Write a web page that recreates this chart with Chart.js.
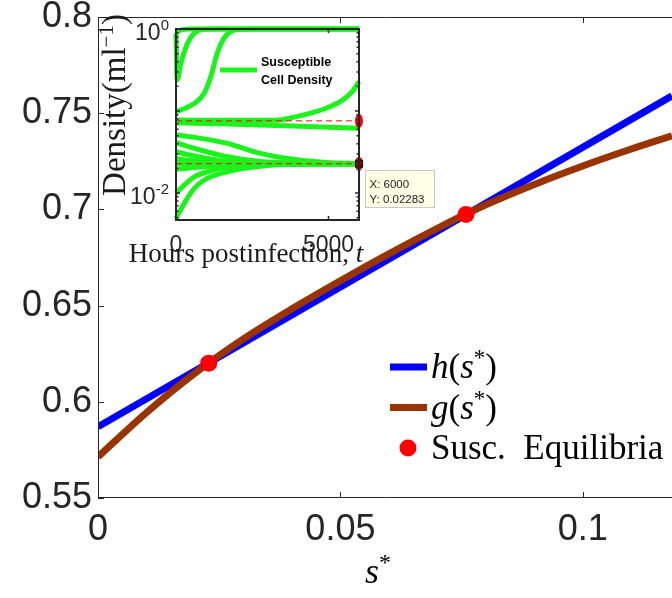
<!DOCTYPE html>
<html>
<head>
<meta charset="utf-8">
<script src="https://cdn.jsdelivr.net/npm/chart.js@4.4.1/dist/chart.umd.min.js"></script>
<style>
  html, body { margin: 0; padding: 0; background: #fff; }
  #wrap { position: relative; width: 672px; height: 598px; }
  #wrap canvas { position: absolute; left: 0; top: 0; }
</style>
</head>
<body>
<div id="wrap">
  <canvas id="mainChart" width="672" height="598"></canvas>
  <canvas id="insetChart" width="672" height="598"></canvas>
</div>
<script>
// ---- main plot: h(s*) and g(s*) ----
const sGrid = [0, 0.01, 0.02, 0.03, 0.04, 0.05, 0.06, 0.07, 0.08, 0.09, 0.10, 0.11, 0.1184];
const gValues = [0.5714, 0.5944, 0.6149, 0.6327, 0.6483, 0.6629, 0.6769, 0.6902, 0.7024, 0.7130, 0.7226, 0.7314, 0.7383];
const hGrid = [0, 0.1184];
const hValues = [0.587, 0.759];
const eqS = [0.02283, 0.0759];
const eqValues = [0.6201, 0.6973];
const xTicks = [0, 0.05, 0.1];
const xTickLabels = ['0', '0.05', '0.1'];
const yTicks = [0.55, 0.6, 0.65, 0.7, 0.75, 0.8];
const yTickLabels = ['0.55', '0.6', '0.65', '0.7', '0.75', '0.8'];

// ---- inset: susceptible cell density vs time ----
const tA1 = [0, 100, 250, 450, 6000];
const vA1 = [0.9, 0.95, 0.99, 1.0, 1.0];
const tA2 = [0, 40, 160, 380, 600, 900, 1300, 6000];
const vA2 = [0.88, 0.24, 0.38, 0.67, 0.89, 0.99, 1.0, 1.0];
const tB = [0, 300, 600, 920, 1140, 1350, 1570, 1790, 2110, 2600, 6000];
const vB = [0.098, 0.108, 0.124, 0.164, 0.262, 0.505, 0.77, 0.93, 0.99, 1.0, 1.0];
const tC = [0, 1500, 3300, 3840, 4380, 4920, 5460, 5780, 6000];
const vC = [0.0777, 0.0772, 0.0775, 0.0837, 0.0937, 0.108, 0.136, 0.172, 0.228];
const tD = [0, 1680, 3840, 6000];
const vD = [0.072, 0.0695, 0.0656, 0.0615];
const tE1 = [0, 600, 1680, 2760, 3840, 4920, 6000];
const vE1 = [0.051, 0.0478, 0.0404, 0.0305, 0.0258, 0.0236, 0.0229];
const tE2 = [0, 600, 1680, 2760, 3840, 6000];
const vE2 = [0.0411, 0.0351, 0.0277, 0.0242, 0.0232, 0.0228];
const tE3 = [0, 600, 1680, 2760, 6000];
const vE3 = [0.0319, 0.0283, 0.0242, 0.0232, 0.0228];
const tE4 = [0, 500, 1140, 2500, 6000];
const vE4 = [0.0265, 0.0248, 0.0234, 0.0229, 0.0228];
const tE5 = [0, 6000];
const vE5 = [0.0228, 0.0228];
const tE6 = [0, 600, 1680, 2760, 6000];
const vE6 = [0.0195, 0.0205, 0.0219, 0.0226, 0.0228];
const tF1 = [0, 270, 600, 1140, 1680, 2760, 6000];
const vF1 = [0.0099, 0.0125, 0.0158, 0.0187, 0.0208, 0.0222, 0.0228];
const tF2 = [0, 270, 600, 920, 1680, 2760, 3840, 6000];
const vF2 = [0.0049, 0.0075, 0.0114, 0.0144, 0.0182, 0.0212, 0.0224, 0.0228];
const insetXTicks = [0, 5000];
const insetXTickLabels = ['0', '5000'];
const insetYTicks = [0.01, 1];
const insetYTickExp = ['-2', '0'];
const tipT = 6000;
const tipValue = 0.02283;

const AXIS_COLOR = '#262626';
const SERIF = '"Liberation Serif", "Times New Roman", serif';
const SANS = '"Liberation Sans", Arial, sans-serif';

const toXY = (xs, ys) => xs.map((x, i) => ({x: x, y: ys[i]}));

// draw a run of text pieces (text, font, rise) one after the other
function drawParts(ctx, parts, x, y, align) {
  let total = 0;
  parts.forEach(p => { ctx.font = p[1]; total += ctx.measureText(p[0]).width; });
  let cx = x;
  if (align === 'center') cx = x - total / 2;
  if (align === 'right') cx = x - total;
  parts.forEach(p => {
    ctx.font = p[1];
    ctx.fillText(p[0], cx, y - (p[2] || 0));
    cx += ctx.measureText(p[0]).width;
  });
}

function ellipseMarker(w, h, color) {
  const c = document.createElement('canvas');
  c.width = w;
  c.height = h;
  const x = c.getContext('2d');
  x.fillStyle = color;
  x.beginPath();
  x.ellipse(w / 2, h / 2, w / 2, h / 2, 0, 0, Math.PI * 2);
  x.fill();
  return c;
}

// box, inward ticks, legend and x label of the main axes
const mainDecor = {
  id: 'mainDecor',
  afterDraw(chart) {
    const ctx = chart.ctx;
    const a = chart.chartArea;
    const xs = chart.scales.x;
    const ys = chart.scales.y;
    ctx.save();
    ctx.strokeStyle = AXIS_COLOR;
    ctx.lineWidth = 1;
    ctx.beginPath();
    ctx.moveTo(a.right, a.top + 0.5);
    ctx.lineTo(a.left + 0.5, a.top + 0.5);
    ctx.lineTo(a.left + 0.5, a.bottom - 0.5);
    ctx.lineTo(a.right, a.bottom - 0.5);
    xTicks.forEach(v => {
      const px = Math.round(xs.getPixelForValue(v)) + 0.5;
      ctx.moveTo(px, a.bottom);
      ctx.lineTo(px, a.bottom - 6);
      ctx.moveTo(px, a.top);
      ctx.lineTo(px, a.top + 6);
    });
    yTicks.forEach(v => {
      const py = Math.round(ys.getPixelForValue(v)) + 0.5;
      ctx.moveTo(a.left, py);
      ctx.lineTo(a.left + 6, py);
    });
    ctx.stroke();

    // x label s*
    ctx.fillStyle = '#000';
    ctx.textBaseline = 'alphabetic';
    drawParts(ctx, [['s', 'italic 36px ' + SERIF], ['*', '24px ' + SERIF, 13]], 378, 583, 'center');

    // legend
    const ds = chart.data.datasets;
    const math = name => [[name, 'italic 35px ' + SERIF], ['(', '35px ' + SERIF], ['s', 'italic 35px ' + SERIF],
      ['*', '23px ' + SERIF, 13], [')', '35px ' + SERIF]];
    const rows = [
      {kind: 'line', color: ds[0].borderColor, parts: math('h')},
      {kind: 'line', color: ds[1].borderColor, parts: math('g')},
      {kind: 'dot', color: ds[2].pointBackgroundColor, parts: [['Susc.  Equilibria', '35px ' + SERIF]]}
    ];
    rows.forEach((r, i) => {
      const y = 367 + i * 40.5;
      if (r.kind === 'line') {
        ctx.strokeStyle = r.color;
        ctx.lineWidth = 7;
        ctx.beginPath();
        ctx.moveTo(390, y);
        ctx.lineTo(427, y);
        ctx.stroke();
      } else {
        ctx.fillStyle = r.color;
        ctx.beginPath();
        ctx.arc(408, y, 8.5, 0, Math.PI * 2);
        ctx.fill();
      }
      ctx.fillStyle = '#000';
      drawParts(ctx, r.parts, 431, y + 11, 'left');
    });
    ctx.restore();
  }
};

new Chart(document.getElementById('mainChart'), {
  type: 'line',
  data: {
    datasets: [
      {label: 'h(s*)', data: toXY(hGrid, hValues), borderColor: '#0000ff', borderWidth: 7,
        pointRadius: 0, tension: 0, clip: 0, order: 3},
      {label: 'g(s*)', data: toXY(sGrid, gValues), borderColor: '#993300', borderWidth: 7,
        pointRadius: 0, cubicInterpolationMode: 'monotone', clip: 0, order: 2},
      {label: 'Susc. Equilibria', data: toXY(eqS, eqValues), showLine: false, pointRadius: 8.5,
        pointBackgroundColor: '#ff0000', pointBorderWidth: 0, order: 1}
    ]
  },
  options: {
    responsive: false,
    animation: false,
    events: [],
    layout: {autoPadding: false, padding: {top: 17, left: 0, right: 0, bottom: 0}},
    plugins: {legend: {display: false}, tooltip: {enabled: false}},
    scales: {
      x: {
        type: 'linear', min: 0, max: 0.1184,
        grid: {display: false, drawTicks: false},
        border: {display: false},
        afterBuildTicks: s => { s.ticks = xTicks.map(v => ({value: v})); },
        afterFit: s => { s.height = 100; s.paddingLeft = 0; s.paddingRight = 0; },
        ticks: {
          font: {family: SANS, size: 36}, color: AXIS_COLOR, padding: 10, maxRotation: 0, autoSkip: false,
          callback: v => xTickLabels[xTicks.indexOf(v)]
        }
      },
      y: {
        type: 'linear', min: 0.55, max: 0.8,
        grid: {display: false, drawTicks: false},
        border: {display: false},
        afterBuildTicks: s => { s.ticks = yTicks.map(v => ({value: v})); },
        afterFit: s => { s.width = 98; s.paddingTop = 0; s.paddingBottom = 0; },
        ticks: {
          font: {family: SANS, size: 36}, color: AXIS_COLOR, padding: 6, autoSkip: false,
          callback: v => yTickLabels[yTicks.findIndex(t => Math.abs(t - v) < 1e-9)]
        }
      }
    }
  },
  plugins: [mainDecor]
});

// white face, box, ticks, labels, legend and data tip of the inset axes
const insetDecor = {
  id: 'insetDecor',
  beforeDatasetsDraw(chart) {
    const a = chart.chartArea;
    chart.ctx.save();
    chart.ctx.fillStyle = '#fff';
    chart.ctx.fillRect(a.left, a.top, a.right - a.left, a.bottom - a.top);
    chart.ctx.restore();
  },
  afterDatasetsDraw(chart) {
    const ctx = chart.ctx;
    const a = chart.chartArea;
    const xs = chart.scales.x;
    const ys = chart.scales.y;
    ctx.save();
    ctx.strokeStyle = AXIS_COLOR;
    ctx.lineWidth = 2;
    ctx.strokeRect(a.left, a.top, a.right - a.left, a.bottom - a.top);
    ctx.lineWidth = 1.5;
    ctx.beginPath();
    insetXTicks.forEach(v => {
      const px = xs.getPixelForValue(v);
      ctx.moveTo(px, a.bottom);
      ctx.lineTo(px, a.bottom - 4);
      ctx.moveTo(px, a.top);
      ctx.lineTo(px, a.top + 4);
    });
    for (let d = 0.001; d < 1; d *= 10) {
      for (let m = 1; m <= 9; m++) {
        const v = d * m;
        if (v < ys.min || v > ys.max) continue;
        const len = m === 1 ? 4 : 2.5;
        const py = ys.getPixelForValue(v);
        ctx.moveTo(a.left, py);
        ctx.lineTo(a.left + len, py);
        ctx.moveTo(a.right, py);
        ctx.lineTo(a.right - len, py);
      }
    }
    ctx.stroke();

    // tick labels
    ctx.fillStyle = AXIS_COLOR;
    ctx.textBaseline = 'alphabetic';
    ctx.textAlign = 'left';
    insetXTicks.forEach((v, i) => {
      drawParts(ctx, [[insetXTickLabels[i], '23px ' + SANS]], xs.getPixelForValue(v), a.bottom + 32, 'center');
    });
    insetYTicks.forEach((v, i) => {
      drawParts(ctx, [['10', '23px ' + SANS], [insetYTickExp[i], '15px ' + SANS, 10]], a.left - 7, ys.getPixelForValue(v) + 11, 'right');
    });

    // axis titles
    ctx.fillStyle = '#1a1a1a';
    drawParts(ctx, [['Hours postinfection, ', '27px ' + SERIF], ['t', 'italic 27px ' + SERIF]], 246, 262, 'center');
    ctx.save();
    ctx.translate(125, 105);
    ctx.rotate(-Math.PI / 2);
    drawParts(ctx, [['Density(ml', '33px ' + SERIF], ['\u22121', '21px ' + SERIF, 12], [')', '33px ' + SERIF]], 0, 0, 'center');
    ctx.restore();

    // legend
    ctx.strokeStyle = chart.data.datasets[0].borderColor;
    ctx.lineWidth = 5;
    ctx.beginPath();
    ctx.moveTo(220, 70);
    ctx.lineTo(257, 70);
    ctx.stroke();
    ctx.fillStyle = '#000';
    ctx.font = 'bold 12.5px ' + SANS;
    ctx.fillText('Susceptible', 261, 66);
    ctx.fillText('Cell Density', 261, 84);

    // data tip box
    const px = xs.getPixelForValue(tipT);
    const py = ys.getPixelForValue(tipValue);
    const bx = Math.round(px) + 6.5;
    const by = Math.round(py) + 6.5;
    ctx.fillStyle = '#ffffe6';
    ctx.strokeStyle = '#c8c8c8';
    ctx.lineWidth = 1;
    ctx.fillRect(bx, by, 69, 37);
    ctx.strokeRect(bx, by, 69, 37);
    ctx.fillStyle = '#222';
    ctx.font = '11.5px ' + SANS;
    ctx.fillText('X: ' + tipT, bx + 4, by + 17);
    ctx.fillText('Y: ' + tipValue, bx + 4, by + 32);
    ctx.restore();
  }
};

const insetCurves = [
  [tA1, vA1], [tA2, vA2], [tB, vB], [tC, vC], [tD, vD],
  [tE1, vE1], [tE2, vE2], [tE3, vE3], [tE4, vE4], [tE5, vE5], [tE6, vE6],
  [tF1, vF1], [tF2, vF2]
];
const insetDatasets = insetCurves.map(c => ({
  data: toXY(c[0], c[1]), borderColor: '#1cf21c', borderWidth: 5, pointRadius: 0,
  cubicInterpolationMode: 'monotone', clip: 4, order: 5
}));
eqS.forEach(v => insetDatasets.push({
  data: toXY([0, tipT], [v, v]), borderColor: '#ff0000', borderWidth: 1, borderDash: [6, 4],
  pointRadius: 0, clip: 4, order: 4
}));
insetDatasets.push({
  data: toXY([tipT, tipT], eqS), showLine: false, pointStyle: ellipseMarker(8, 14, '#ff0000'),
  pointRadius: 6, clip: false, order: 3
});
insetDatasets.push({
  data: [{x: tipT, y: tipValue}], showLine: false, pointStyle: 'rect', pointRadius: 5,
  pointBackgroundColor: '#8b0000', pointBorderColor: '#000', pointBorderWidth: 1, clip: false, order: 2
});

new Chart(document.getElementById('insetChart'), {
  type: 'line',
  data: {datasets: insetDatasets},
  options: {
    responsive: false,
    animation: false,
    events: [],
    layout: {autoPadding: false, padding: {left: 176, top: 29, right: 672 - 359, bottom: 598 - 220}},
    plugins: {legend: {display: false}, tooltip: {enabled: false}},
    scales: {
      x: {type: 'linear', min: 0, max: 6000, display: false},
      y: {type: 'logarithmic', min: 0.0047, max: 1, display: false}
    }
  },
  plugins: [insetDecor]
});
</script>
</body>
</html>
